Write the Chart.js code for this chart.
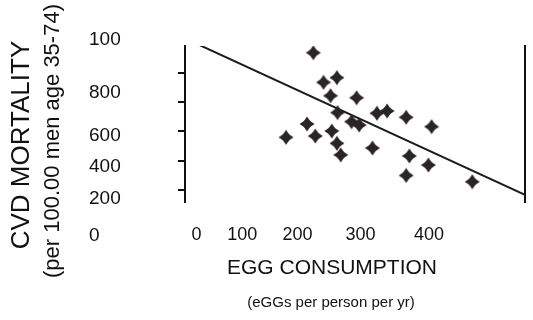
<!DOCTYPE html>
<html>
<head>
<meta charset="utf-8">
<script src="https://cdn.jsdelivr.net/npm/chart.js@4.4.1/dist/chart.umd.min.js"></script>
<style>
  html, body { margin: 0; padding: 0; background: #fff; }
  #wrap { width: 533px; height: 320px; position: relative; }
</style>
</head>
<body>
<div id="wrap"><canvas id="chart"></canvas></div>
<script>
// eggs per person per year vs CVD mortality, one point per country
const eggX = [217, 233, 254, 244, 285, 255, 174, 207, 220, 246, 254, 260, 277, 289, 310, 317, 333, 363, 403, 368, 398, 363, 467];
const cvdY = [1136, 934, 966, 843, 829, 728, 559, 650, 568, 602, 518, 439, 666, 643, 486, 723, 739, 696, 632, 432, 370, 299, 256];

// regression line end points
const fitX = [15, 550];
const fitY = [1234, 166];

// the printed tick labels do not sit on the tick marks in the original
const xTickValues = [33, 105, 192, 291, 399];
const xTickLabels = ['0', '100', '200', '300', '400'];
const yTickMarks = [200, 400, 600, 800, 1000];
const yLabelValues = [1223, 863, 573, 355, 140, -109];
const yTickLabels = ['100', '800', '600', '400', '200', '0'];

const xTitle = 'EGG CONSUMPTION';
const xSubtitle = '(eGGs per person per yr)';
const yTitle = 'CVD MORTALITY';
const ySubtitle = '(per 100.00 men age 35-74)';

const xRange = { min: 15, max: 550 };
const yRange = { min: 118, max: 1182 };

const FONT = '"Liberation Sans", Arial, Helvetica, sans-serif';
Chart.defaults.font.family = FONT;
Chart.defaults.color = '#111';

// four pointed star marker
function makeStar(size, color) {
  const c = document.createElement('canvas');
  c.width = c.height = size;
  const g = c.getContext('2d');
  const m = size / 2, R = size / 2 - 0.5, r = R * 0.58;
  g.fillStyle = color;
  g.beginPath();
  for (let k = 0; k < 8; k++) {
    const a = k * Math.PI / 4 - Math.PI / 2;
    const rad = k % 2 ? r : R;
    g.lineTo(m + rad * Math.cos(a), m + rad * Math.sin(a));
  }
  g.closePath();
  g.fill();
  g.beginPath();
  g.arc(m, m, R * 0.56, 0, Math.PI * 2);
  g.fill();
  return c;
}
const star = makeStar(16, '#2b2426');

const axisTitles = {
  id: 'axisTitles',
  afterDraw(chart) {
    const ctx = chart.ctx;
    ctx.save();
    ctx.fillStyle = '#111';
    ctx.textAlign = 'center';
    ctx.textBaseline = 'middle';
    ctx.font = '21px ' + FONT;
    ctx.fillText(xTitle, 332, 268);
    ctx.font = '15px ' + FONT;
    ctx.fillText(xSubtitle, 331, 303);
    ctx.translate(22, 145);
    ctx.rotate(-Math.PI / 2);
    ctx.font = '26px ' + FONT;
    ctx.fillText(yTitle, 0, 0);
    ctx.restore();
    ctx.save();
    ctx.fillStyle = '#111';
    ctx.textAlign = 'center';
    ctx.textBaseline = 'middle';
    ctx.translate(53, 141);
    ctx.rotate(-Math.PI / 2);
    ctx.font = '22px ' + FONT;
    ctx.fillText(ySubtitle, 0, 0);
    ctx.restore();
  }
};

new Chart(document.getElementById('chart'), {
  type: 'scatter',
  data: {
    datasets: [
      {
        data: eggX.map((x, i) => ({ x: x, y: cvdY[i] })),
        pointStyle: star,
        pointRadius: 7,
        pointHoverRadius: 7
      },
      {
        type: 'line',
        data: fitX.map((x, i) => ({ x: x, y: fitY[i] })),
        borderColor: '#1b1b1b',
        borderWidth: 2,
        pointRadius: 0,
        fill: false,
        tension: 0
      }
    ]
  },
  options: {
    responsive: true,
    maintainAspectRatio: false,
    animation: false,
    layout: { padding: { top: 46, left: 89, right: 3, bottom: 0 } },
    plugins: {
      legend: { display: false },
      tooltip: { enabled: false }
    },
    scales: {
      x: { type: 'linear', min: xRange.min, max: xRange.max, display: false },
      xl: {
        type: 'linear',
        position: 'bottom',
        min: xRange.min,
        max: xRange.max,
        grid: { display: false, drawTicks: false },
        border: { display: false },
        afterBuildTicks: (scale) => { scale.ticks = xTickValues.map(v => ({ value: v })); },
        afterFit: (scale) => { scale.height = 118; },
        ticks: {
          autoSkip: false,
          maxRotation: 0,
          padding: 22,
          font: { size: 18 },
          callback: (value, index) => xTickLabels[index]
        }
      },
      y: {
        type: 'linear',
        position: 'left',
        weight: 0,
        min: yRange.min,
        max: yRange.max,
        grid: { drawOnChartArea: false, drawTicks: true, tickLength: 7, color: '#111', lineWidth: 2 },
        border: { display: true, color: '#111', width: 2 },
        afterBuildTicks: (scale) => { scale.ticks = yTickMarks.map(v => ({ value: v })); },
        afterFit: (scale) => { scale.width = 7; },
        ticks: { display: false }
      },
      yl: {
        type: 'linear',
        position: 'left',
        weight: 1,
        min: yRange.min,
        max: yRange.max,
        grid: { display: false, drawTicks: false },
        border: { display: false },
        afterBuildTicks: (scale) => { scale.ticks = yLabelValues.map(v => ({ value: v })); },
        afterFit: (scale) => { scale.width = 89; },
        ticks: {
          autoSkip: false,
          crossAlign: 'far',
          font: { size: 19 },
          callback: (value, index) => yTickLabels[index]
        }
      },
      yr: {
        type: 'linear',
        position: 'right',
        min: yRange.min,
        max: yRange.max,
        grid: { display: false, drawTicks: false },
        border: { display: true, color: '#111', width: 2 },
        ticks: { display: false }
      }
    }
  },
  plugins: [axisTitles]
});
</script>
</body>
</html>
